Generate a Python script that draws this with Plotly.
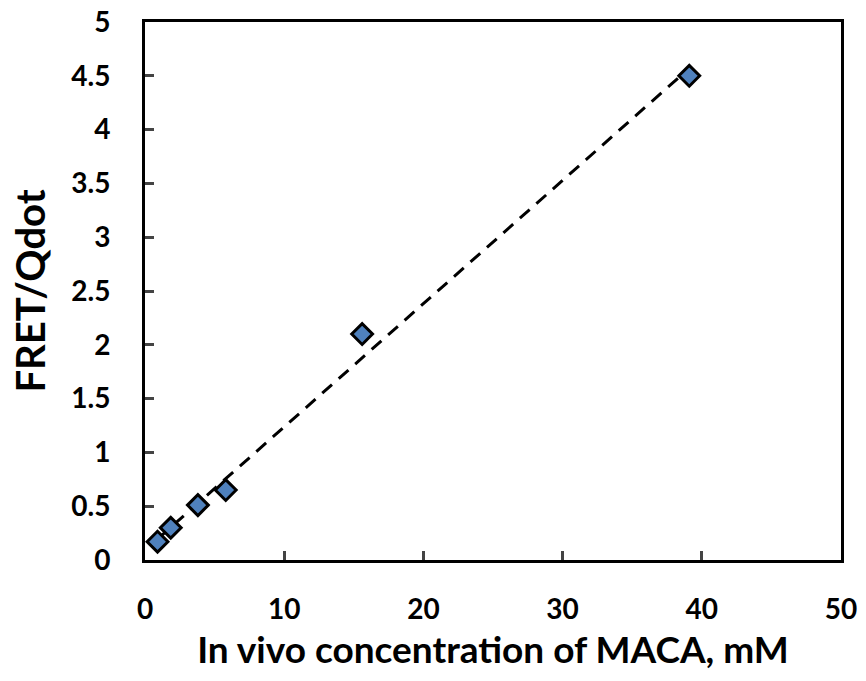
import numpy as np
import plotly.graph_objects as go

conc = [0.9, 1.85, 3.8, 5.8, 15.6, 39.1]
fret = [0.17, 0.30, 0.51, 0.65, 2.10, 4.50]
x_ticks = [0, 10, 20, 30, 40, 50]
y_ticks = [0, 0.5, 1, 1.5, 2, 2.5, 3, 3.5, 4, 4.5, 5]
y_tick_text = ["0", "0.5", "1", "1.5", "2", "2.5", "3", "3.5", "4", "4.5", "5"]

slope, intercept = np.polyfit(conc, fret, 1)
fit_x = [min(conc), max(conc)]
fit_y = [slope * v + intercept for v in fit_x]

fig = go.Figure()
fig.add_trace(go.Scatter(x=fit_x, y=fit_y, mode="lines",
                         line=dict(color="black", width=3, dash="13px,9px"),
                         showlegend=False, hoverinfo="skip"))
fig.add_trace(go.Scatter(x=conc, y=fret, mode="markers",
                         marker=dict(symbol="diamond", size=16, color="#4F81BD",
                                     line=dict(color="black", width=3)),
                         showlegend=False))

font_family = "Lato, 'Open Sans', sans-serif"
fig.update_layout(
    width=866, height=681,
    margin=dict(l=145, r=25, t=22, b=121, autoexpand=False),
    paper_bgcolor="white", plot_bgcolor="white",
    font=dict(family=font_family, color="black"),
    xaxis=dict(range=[0, 50], tickvals=x_ticks, automargin=False,
               ticktext=["<b>%d</b>" % v for v in x_ticks],
               ticks="inside", ticklen=9, tickwidth=3, ticklabelstandoff=22,
               showline=True, linewidth=3, linecolor="black", mirror=True,
               showgrid=False, zeroline=False,
               tickfont=dict(size=28, family=font_family),
               title=dict(text="<b>In vivo concentration of MACA, mM</b>",
                          font=dict(size=37, family=font_family), standoff=14)),
    yaxis=dict(range=[0, 5], tickvals=y_ticks, automargin=False,
               ticktext=["<b>%s</b>" % t for t in y_tick_text],
               ticks="inside", ticklen=9, tickwidth=3, ticklabelstandoff=26,
               showline=True, linewidth=3, linecolor="black", mirror=True,
               showgrid=False, zeroline=False,
               tickfont=dict(size=28, family=font_family),
               title=dict(text="<b>FRET/Qdot</b>",
                          font=dict(size=40, family=font_family), standoff=14)),
)

fig.write_html("out.html")
